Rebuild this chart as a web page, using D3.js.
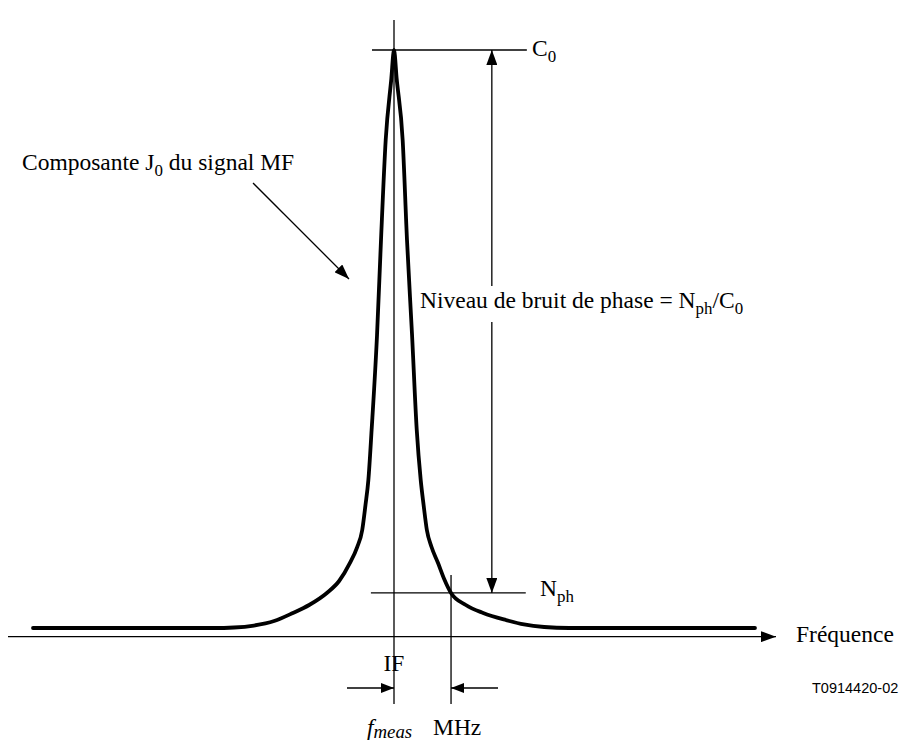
<!DOCTYPE html>
<html>
<head>
<meta charset="utf-8">
<script src="https://cdn.jsdelivr.net/npm/d3@7"></script>
<style>
  html, body { margin: 0; padding: 0; background: #fff; }
  svg { display: block; }
</style>
</head>
<body>
<svg id="chart" width="905" height="753"></svg>
<script>
// ---- Data ----
// Frequency offset from IF (arbitrary units, chart spans -10..10)
const freqOffsets = [-10, -4.99, -4.43, -3.88, -3.32, -2.80, -2.35, -1.86, -1.52, -1.22, -1.02, -0.88, -0.79, -0.71, -0.62, -0.47, -0.36, -0.23, -0.075, 0,
                      0.075, 0.24, 0.36, 0.50, 0.63, 0.74, 0.82, 0.91, 1.04, 1.22, 1.39, 1.58, 1.99, 2.47, 3.10, 3.60, 4.16, 4.85, 10];
// Relative level (0 = floor, 100 = carrier C0)
const levels = [0, 0, 0.09, 0.43, 1.21, 2.60, 3.98, 6.06, 8.13, 11.25, 14.01, 16.96, 21.28, 25.61, 34.26, 50.69, 67.13, 84.43, 94.98, 100,
                94.98, 84.43, 67.13, 50.69, 34.26, 25.61, 21.28, 16.96, 14.01, 11.25, 8.48, 6.06, 3.98, 2.60, 1.38, 0.61, 0.17, 0, 0];

const carrierLevel = 100;   // C0
const noiseLevel = 6.06;    // Nph
const measOffset = 1.58;    // f_meas offset where curve meets Nph
const axisLevel = -1.5;

const labels = {
  component: ["Composante J", "0", " du signal MF"],
  niveau: ["Niveau de bruit de phase = N", "ph", "/C", "0"],
  c0: ["C", "0"],
  nph: ["N", "ph"],
  axis: "Fréquence",
  center: "IF",
  unit: "MHz",
  ref: "T0914420-02"
};

const SERIF = "'Liberation Serif', 'Times New Roman', Times, 'DejaVu Serif', serif";
const SANS = "'Liberation Sans', Arial, Helvetica, sans-serif";

// ---- Scales ----
const x = d3.scaleLinear().domain([-10, 10]).range([33, 755]);
const y = d3.scaleLinear().domain([0, 100]).range([628, 50]);

const svg = d3.select("#chart");
const defs = svg.append("defs");
function marker(id, len, half) {
  defs.append("marker")
    .attr("id", id)
    .attr("viewBox", `0 ${-half} ${len} ${2*half}`)
    .attr("refX", len).attr("refY", 0)
    .attr("markerUnits", "userSpaceOnUse")
    .attr("markerWidth", len).attr("markerHeight", 2*half)
    .attr("orient", "auto")
    .append("path")
    .attr("d", `M0,${-half}L${len},0L0,${half}Z`)
    .attr("fill", "#000");
}
marker("arr", 15, 5.5);
marker("arrS", 13, 5);

const thin = 1.3;
function line(x1, y1, x2, y2, opts = {}) {
  const l = svg.append("line")
    .attr("x1", x1).attr("y1", y1).attr("x2", x2).attr("y2", y2)
    .attr("stroke", "#000").attr("stroke-width", opts.w || thin);
  if (opts.m) l.attr("marker-end", `url(#${opts.m})`);
  return l;
}

// Frequency axis with arrow
line(8, y(axisLevel), 776, y(axisLevel), { m: "arr", w: 1.4 });

// IF centre line
line(x(0), 20, x(0), 704);
// f_meas line
line(x(measOffset), 575, x(measOffset), 704);

// C0 and Nph reference lines
line(x(-0.61), y(carrierLevel), x(3.68), y(carrierLevel));
line(x(-0.64), y(noiseLevel), x(3.65), y(noiseLevel));

// Double arrow (phase noise level)
const arrX = x(2.71);
line(arrX, 286, arrX, y(carrierLevel), { m: "arr" });
line(arrX, 322, arrX, y(noiseLevel), { m: "arr" });

// Bottom measurement arrows
line(347, 688, x(0), 688, { m: "arrS" });
line(498, 688, x(measOffset), 688, { m: "arrS" });

// Pointer arrow to curve
line(253, 183, 349, 279, { m: "arr" });

// Spectrum curve
const pts = freqOffsets.map((f, i) => [f, levels[i]]);
svg.append("path")
  .datum(pts)
  .attr("d", d3.line().x(d => x(d[0])).y(d => y(d[1])).curve(d3.curveMonotoneX))
  .attr("fill", "none")
  .attr("stroke", "#000")
  .attr("stroke-width", 3.8)
  .attr("stroke-linecap", "round")
  .attr("stroke-linejoin", "round");

// ---- Texts ----
const fs = 23.5;
function subText(xp, yp, parts, size, anchor) {
  const t = svg.append("text").attr("x", xp).attr("y", yp)
    .attr("font-family", SERIF).style("font-family", SERIF)
    .attr("font-size", size).attr("text-anchor", anchor || "start");
  parts.forEach((p, i) => {
    const sub = i % 2 === 1;
    t.append("tspan")
      .attr("font-size", sub ? size * 0.72 : size)
      .attr("dy", i === 0 ? 0 : (sub ? 6 : -6))
      .text(p);
  });
  return t;
}
function plain(xp, yp, str, size, anchor) {
  return svg.append("text").attr("x", xp).attr("y", yp)
    .attr("font-family", SERIF).style("font-family", SERIF)
    .attr("font-size", size).attr("text-anchor", anchor || "start").text(str);
}
subText(22, 170, labels.component, fs);
subText(420, 308, labels.niveau, fs);
subText(532, 56, labels.c0, fs);
subText(540, 596, labels.nph, fs);

plain(796, 642, labels.axis, fs);
plain(x(0), 671, labels.center, fs, "middle");

// f_meas (italic)
const fm = svg.append("text").attr("x", 367).attr("y", 735)
  .attr("font-family", SERIF).style("font-family", SERIF)
  .attr("font-size", fs).attr("font-style", "italic");
fm.append("tspan").text("f");
fm.append("tspan").attr("font-size", fs * 0.8).attr("dy", 3).text("meas");

plain(433, 735, labels.unit, fs);

svg.append("text").attr("x", 812).attr("y", 693)
  .attr("font-family", SANS).style("font-family", SANS)
  .attr("font-size", 14.5).text(labels.ref);
</script>
</body>
</html>
